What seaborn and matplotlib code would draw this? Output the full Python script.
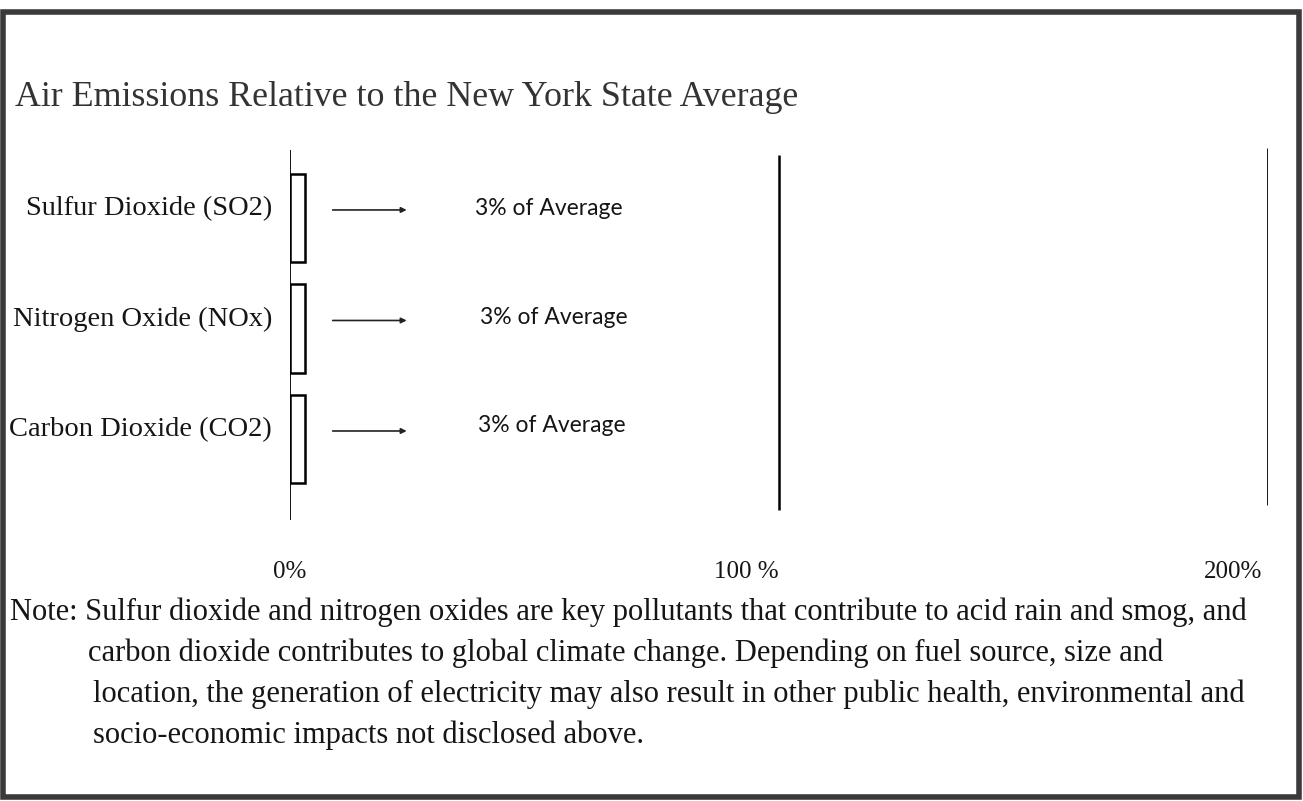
import matplotlib
matplotlib.use("Agg")
import matplotlib.pyplot as plt
from matplotlib.patches import Rectangle
from matplotlib.transforms import offset_copy
import pandas as pd
import seaborn as sns

# data
pollutants = ["Sulfur Dioxide (SO2)", "Nitrogen Oxide (NOx)", "Carbon Dioxide (CO2)"]
pct_of_avg = [3, 3, 3]
bar_notes = ["3% of Average", "3% of Average", "3% of Average"]
tick_values = [0, 100, 200]
tick_labels = ["0%", "100 %", "200%"]
ref_lines = [100, 200]

title = "Air Emissions Relative to the New York State Average"
note_lines = [
    "Note: Sulfur dioxide and nitrogen oxides are key pollutants that contribute to acid rain and smog, and",
    "carbon dioxide contributes to global climate change. Depending on fuel source, size and",
    "location, the generation of electricity may also result in other public health, environmental and",
    "socio-economic impacts not disclosed above.",
]

SERIF = "Liberation Serif"

sns.set_style("white")
W, H = 1303, 801
fig = plt.figure(figsize=(W / 100, H / 100), dpi=100)

# axes placed so that 0% sits at x=290px and 200% at x=1268px
ax = fig.add_axes([290 / W, 1 - 520 / H, (1268 - 290) / W, (520 - 148) / H])

df = pd.DataFrame({"pollutant": pollutants, "pct": pct_of_avg})
sns.barplot(data=df, x="pct", y="pollutant", orient="h", ax=ax,
            color="white", edgecolor="black", linewidth=1.8, width=0.8)

ax.set_xlim(0, 200)
ax.set_ylim(2.733, -0.633)
for s in ax.spines.values():
    s.set_visible(False)
ax.set_yticks([])
ax.set_xticks([])
ax.set_xlabel("")
ax.set_ylabel("")

# zero axis and reference lines
ax.vlines(0, -0.615, 2.733, color="black", lw=1.3)
ax.vlines(ref_lines[0], -0.57, 2.64, color="black", lw=1.8)
ax.vlines(ref_lines[1], -0.633, 2.60, color="black", lw=2.0)

note_dx = [170, 175, 173]
for i, (name, val, note) in enumerate(zip(pollutants, pct_of_avg, bar_notes)):
    ax.annotate(name, xy=(0, i), xytext=(-18, 9), textcoords="offset pixels",
                ha="right", va="center", fontsize=20.5, family=SERIF, color="#151515")
    a0 = offset_copy(ax.transData, fig=fig, x=28, y=8, units="dots")
    a1 = offset_copy(ax.transData, fig=fig, x=102, y=8, units="dots")
    ax.annotate("", xy=(val, i), xycoords=a1, xytext=(val, i), textcoords=a0,
                arrowprops=dict(arrowstyle="-|>", color="#222222", lw=1.2,
                                mutation_scale=8, shrinkA=0, shrinkB=0))
    ax.annotate(note, xy=(val, i), xytext=(note_dx[i], 9 + 2 * i), textcoords="offset pixels",
                ha="left", va="center", fontsize=16.5, family="Lato", color="#151515")

tick_ha = ["center", "right", "right"]
tick_dx = [0, 0, -6]
for v, lab, ha, dx in zip(tick_values, tick_labels, tick_ha, tick_dx):
    ax.annotate(lab, xy=(v, 2.733), xytext=(dx, -52), textcoords="offset pixels",
                ha=ha, va="center", fontsize=18, family=SERIF, color="#151515")

fig.text(15 / W, 1 - 97 / H, title, fontsize=25.8, family=SERIF, color="#333333",
         ha="left", va="center")

note_x = [10, 88, 93, 93]
for k, (line, nx) in enumerate(zip(note_lines, note_x)):
    fig.text(nx / W, 1 - (612 + 41 * k) / H, line, fontsize=22, family=SERIF,
             color="#151515", ha="left", va="center")

# scanned page frame
fig.patches.append(Rectangle((3 / W, 1 - 797 / H), (1299 - 3) / W, (797 - 12) / H,
                             transform=fig.transFigure, fill=False,
                             edgecolor="#3a3a3a", lw=4))

fig.savefig("out.png", dpi=100)
